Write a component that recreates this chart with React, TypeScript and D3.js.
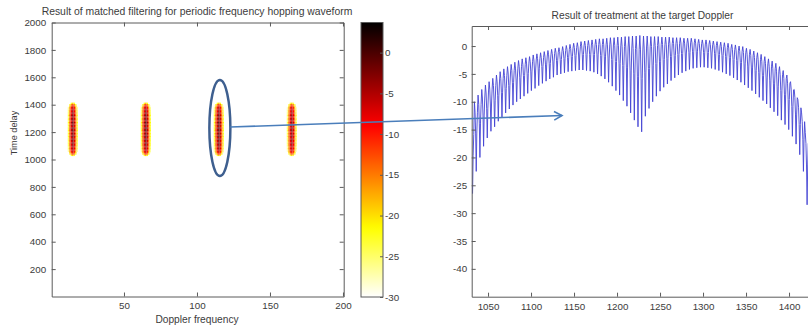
import React, { useEffect, useRef } from "react";
import * as d3 from "d3";

const W = 808;
const H = 332;
const FONT = "'Liberation Sans', Arial, sans-serif";
const TEXT = "#3c3c3c";
const AXIS = "#5a5a5a";

// left panel: matched filter output (Doppler x delay), dB
const dopplerTicks = [50, 100, 150, 200];
const delayTicks = [200, 400, 600, 800, 1000, 1200, 1400, 1600, 1800, 2000];
const colorTicks = [0, -5, -10, -15, -20, -25, -30];
const blobDopplers = [15, 65, 115, 165];
const blobLevels = [0, 0.5, 0.5, -1];
const dopplerOffsets = [-3, -2, -1, 0, 1, 2, 3];
const dopplerProfile = [-24, -14, -7, -2.5, -7, -14, -24];
const delayStart = 1030;
const delayStep = 10;
const delayProfile = [
  -16, -9, -5, -3, -2, -1, -2, 0, -1, 1, -1, 0, 1, -1, 2, 0, 1, -1, 2, 0,
  2, -1, 1, 0, 2, -1, 1, 0, -1, 1, -1, 0, -2, -1, -2, -3, -5, -9, -16,
];

// right panel: cut at the target Doppler
const rightXTicks = [1050, 1100, 1150, 1200, 1250, 1300, 1350, 1400];
const rightYTicks = [0, -5, -10, -15, -20, -25, -30, -35, -40];
const toothFirst = 1032;
const toothLast = 1421;
const peaks = [
  -14, -10, -8.8, -7.8, -7, -6.4, -5.8, -5.2, -4.6, -4.1, -3.7, -3.3, -2.9, -2.6, -2.3, -2.1,
  -1.9, -1.6, -1.4, -1.2, -1.0, -0.8, -0.6, -0.4, -0.3, -0.1, 0.1, 0.3, 0.5, 0.6, 0.8, 0.9,
  1.0, 1.1, 1.2, 1.3, 1.3, 1.4, 1.5, 1.5, 1.6, 1.6, 1.7, 1.7, 1.8, 1.8, 1.9, 1.8,
  1.8, 1.7, 1.7, 1.7, 1.6, 1.6, 1.6, 1.5, 1.5, 1.5, 1.4, 1.4, 1.4, 1.3, 1.2, 1.1,
  1.1, 1.0, 0.9, 0.8, 0.7, 0.6, 0.5, 0.3, 0.2, 0.0, -0.1, -0.4, -0.6, -0.9, -1.2, -1.5,
  -1.9, -2.3, -2.7, -3.1, -3.7, -4.4, -5.2, -6.4, -7.8, -9.6, -12, -15.5,
];
const troughs = [
  -26.5, -22.5, -20, -18, -16.5, -15.3, -14.5, -13.5, -12.8, -12, -11.3, -10.6, -10, -9.5, -9, -8.5,
  -8, -7.6, -7.1, -6.7, -6.3, -5.9, -5.6, -5.2, -5.0, -4.8, -4.6, -4.5, -4.4, -4.3, -4.3, -4.4,
  -4.5, -4.7, -5.0, -5.4, -5.9, -6.5, -7.2, -8.0, -8.8, -9.8, -10.8, -12.0, -13.3, -14.5, -15.4, -12.6,
  -11.2, -10.0, -9.0, -8.1, -7.4, -6.8, -6.2, -5.7, -5.2, -4.8, -4.5, -4.2, -4.0, -3.9, -3.8, -3.8,
  -3.9, -4.0, -4.2, -4.4, -4.7, -5.0, -5.3, -5.7, -6.1, -6.5, -7.0, -7.5, -8.0, -8.6, -9.2, -9.8,
  -10.4, -11.1, -11.8, -12.5, -13.3, -14.1, -15.0, -16.2, -17.6, -19.5, -22.5, -28.5,
];
// shape of one notch: [offset from notch centre, fraction of depth]
const notchShape = [
  [-0.5, 0],
  [-0.32, 0.15],
  [-0.16, 0.45],
  [0, 1],
  [0.16, 0.45],
  [0.32, 0.15],
];

const cMin = -30;
const cMax = 3.7;

// flipped MATLAB "hot": white -> yellow -> red -> black
function hotFlip(v: number) {
  const t = 1 - Math.max(0, Math.min(1, (v - cMin) / (cMax - cMin)));
  const c = (x: number) => Math.max(0, Math.min(1, x));
  return d3
    .rgb(c(t / 0.375) * 255, c((t - 0.375) / 0.375) * 255, c((t - 0.75) / 0.25) * 255)
    .formatHex();
}

const plain = (d: d3.NumberValue) => String(d);

const App: React.FC = () => {
  const svgRef = useRef<SVGSVGElement | null>(null);

  useEffect(() => {
    if (!svgRef.current) return;
    const svg = d3.select(svgRef.current);
    svg.selectAll("*").remove();

    const styleAxis = (g: any, fontSize = 9.8) => {
      g.selectAll("path").attr("stroke", AXIS);
      g.selectAll("line").attr("stroke", AXIS);
      g.selectAll("text").attr("fill", TEXT).attr("font-size", fontSize).attr("font-family", FONT);
    };
    const label = (x: number, y: number, size: number, txt: string, transform?: string) => {
      const t = svg
        .append("text")
        .attr("text-anchor", "middle")
        .attr("font-size", size)
        .attr("font-family", FONT)
        .attr("fill", TEXT)
        .text(txt);
      if (transform) t.attr("transform", transform);
      else t.attr("x", x).attr("y", y);
    };

    // ---------- left panel ----------
    const xL = d3.scaleLinear().domain([0.5, 200.5]).range([51.7, 343.7]);
    const yL = d3.scaleLinear().domain([0, 2000]).range([296.5, 22.5]);

    const heat = svg.append("g");
    blobDopplers.forEach((dop, b) => {
      delayProfile.forEach((dp, i) => {
        const delay = delayStart + i * delayStep;
        dopplerOffsets.forEach((off, j) => {
          const v = blobLevels[b] + dopplerProfile[j] + dp;
          if (v <= cMin + 1) return;
          heat
            .append("rect")
            .attr("x", xL(dop + off - 0.5))
            .attr("y", yL(delay + delayStep / 2))
            .attr("width", xL(dop + off + 0.5) - xL(dop + off - 0.5))
            .attr("height", yL(delay - delayStep / 2) - yL(delay + delayStep / 2))
            .attr("fill", hotFlip(v));
        });
      });
    });

    styleAxis(
      svg
        .append("g")
        .attr("transform", `translate(0,${yL(0)})`)
        .call(d3.axisBottom(xL).tickValues(dopplerTicks).tickSize(-4).tickSizeOuter(0).tickPadding(6).tickFormat(plain))
    );
    styleAxis(
      svg
        .append("g")
        .attr("transform", `translate(0,${yL(2000)})`)
        .call(d3.axisTop(xL).tickValues(dopplerTicks).tickSize(-4).tickSizeOuter(0).tickFormat(() => ""))
    );
    styleAxis(
      svg
        .append("g")
        .attr("transform", `translate(${xL(0.5)},0)`)
        .call(d3.axisLeft(yL).tickValues(delayTicks).tickSize(-4).tickSizeOuter(0).tickPadding(5.5).tickFormat(plain))
    );
    styleAxis(
      svg
        .append("g")
        .attr("transform", `translate(${xL(200.5)},0)`)
        .call(d3.axisRight(yL).tickValues(delayTicks).tickSize(-4).tickSizeOuter(0).tickFormat(() => ""))
    );

    label(197, 14.5, 10.4, "Result of matched filtering for periodic frequency hopping waveform");
    label(197, 322.5, 10.2, "Doppler frequency");
    label(0, 0, 9.2, "Time delay", "translate(17,133) rotate(-90)");

    // colorbar
    const cb = { x0: 361, x1: 383 };
    const cScale = d3.scaleLinear().domain([cMin, cMax]).range([297, 22.5]);
    const grad = svg
      .append("defs")
      .append("linearGradient")
      .attr("id", "hotgrad")
      .attr("x1", 0)
      .attr("y1", 1)
      .attr("x2", 0)
      .attr("y2", 0);
    d3.range(0, 1.0001, 0.02).forEach((f) => {
      grad
        .append("stop")
        .attr("offset", f)
        .attr("stop-color", hotFlip(cMin + f * (cMax - cMin)));
    });
    svg
      .append("rect")
      .attr("x", cb.x0)
      .attr("y", cScale(cMax))
      .attr("width", cb.x1 - cb.x0)
      .attr("height", cScale(cMin) - cScale(cMax))
      .attr("fill", "url(#hotgrad)")
      .attr("stroke", AXIS)
      .attr("stroke-width", 1);
    const gc = svg
      .append("g")
      .attr("transform", `translate(${cb.x1},0)`)
      .call(d3.axisRight(cScale).tickValues(colorTicks).tickSize(-3).tickSizeOuter(0).tickPadding(2).tickFormat(plain));
    gc.select(".domain").remove();
    styleAxis(gc);

    // ---------- right panel ----------
    const xR = d3.scaleLinear().domain([1031, 1431]).range([471.7, 815.7]);
    const yR = d3.scaleLinear().domain([-45, 3.6]).range([296.7, 26]);
    const toothPos = d3.scaleLinear().domain([0, peaks.length - 1]).range([toothFirst, toothLast]);

    const pts: [number, number][] = [];
    peaks.forEach((p, k) => {
      const t = troughs[k];
      notchShape.forEach(([off, w]) => {
        if (k === 0 && off < 0) return;
        pts.push([toothPos(k + off), p + w * (t - p)]);
      });
    });

    svg
      .append("path")
      .datum(pts)
      .attr(
        "d",
        d3
          .line<[number, number]>()
          .x((d) => xR(d[0]))
          .y((d) => yR(d[1]))
      )
      .attr("fill", "none")
      .attr("stroke", "#4444d4")
      .attr("stroke-width", 0.9);

    styleAxis(
      svg
        .append("g")
        .attr("transform", `translate(0,${yR(-45)})`)
        .call(d3.axisBottom(xR).tickValues(rightXTicks).tickSize(-4).tickSizeOuter(0).tickPadding(6).tickFormat(plain))
    );
    styleAxis(
      svg
        .append("g")
        .attr("transform", `translate(0,${yR(3.6)})`)
        .call(d3.axisTop(xR).tickValues(rightXTicks).tickSize(-4).tickSizeOuter(0).tickFormat(() => ""))
    );
    styleAxis(
      svg
        .append("g")
        .attr("transform", `translate(${xR(1031)},0)`)
        .call(d3.axisLeft(yR).tickValues(rightYTicks).tickSize(-4).tickSizeOuter(0).tickPadding(4.5).tickFormat(plain))
    );

    label(642.5, 19, 10.2, "Result of treatment at the target Doppler");

    // ---------- annotation: ellipse + arrow ----------
    const ex = xL(115) + 1;
    const ey = yL(1230);
    svg
      .append("ellipse")
      .attr("cx", ex)
      .attr("cy", ey)
      .attr("rx", 10.5)
      .attr("ry", 48)
      .attr("fill", "none")
      .attr("stroke", "#3e5f8f")
      .attr("stroke-width", 2.5);

    const tip: [number, number] = [562, 115.5];
    const start: [number, number] = [ex + 10.5, 127];
    const ang = Math.atan2(tip[1] - start[1], tip[0] - start[0]);
    const hl = 9;
    const hw = 0.5;
    svg
      .append("line")
      .attr("x1", start[0])
      .attr("y1", start[1])
      .attr("x2", tip[0])
      .attr("y2", tip[1])
      .attr("stroke", "#4a7ebb")
      .attr("stroke-width", 1.6);
    svg
      .append("path")
      .attr(
        "d",
        `M${tip[0] - hl * Math.cos(ang - hw)},${tip[1] - hl * Math.sin(ang - hw)}` +
          `L${tip[0]},${tip[1]}` +
          `L${tip[0] - hl * Math.cos(ang + hw)},${tip[1] - hl * Math.sin(ang + hw)}`
      )
      .attr("fill", "none")
      .attr("stroke", "#4a7ebb")
      .attr("stroke-width", 1.6);
  }, []);

  return (
    <svg
      ref={svgRef}
      width={W}
      height={H}
      style={{ position: "absolute", left: 0, top: 0, background: "#fff" }}
    />
  );
};

export default App;
